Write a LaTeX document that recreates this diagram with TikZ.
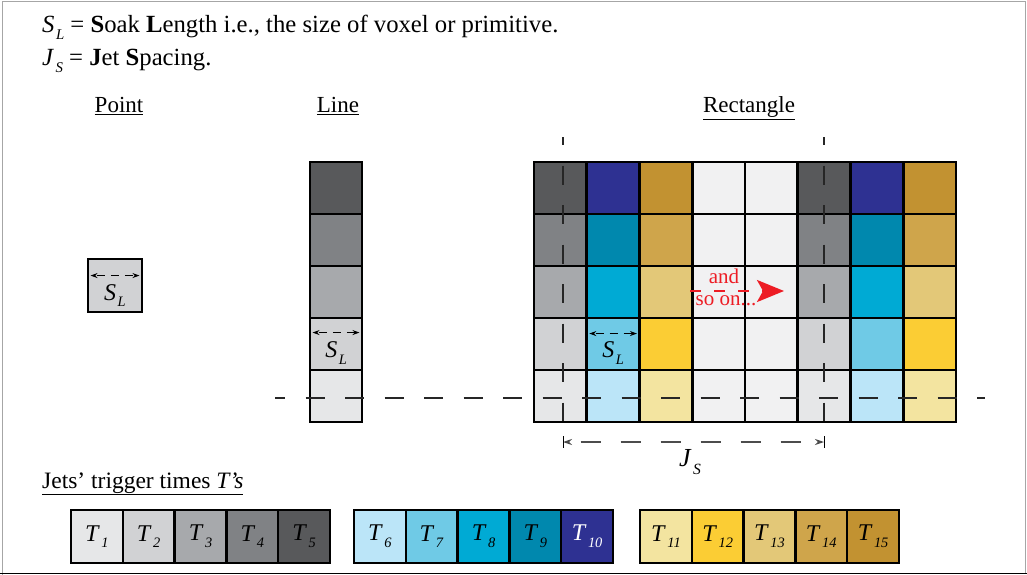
\documentclass[tikz,border=0pt]{standalone}
\usepackage{fontspec}
\setmainfont{Liberation Serif}
\usetikzlibrary{arrows.meta}

\definecolor{t1}{HTML}{E6E7E8}
\definecolor{t2}{HTML}{D1D2D4}
\definecolor{t3}{HTML}{A7A9AC}
\definecolor{t4}{HTML}{808285}
\definecolor{t5}{HTML}{58595B}
\definecolor{t6}{HTML}{BBE5F8}
\definecolor{t7}{HTML}{6FCAE6}
\definecolor{t8}{HTML}{00AAD4}
\definecolor{t9}{HTML}{0088AE}
\definecolor{t10}{HTML}{2E3192}
\definecolor{t11}{HTML}{F3E4A0}
\definecolor{t12}{HTML}{FBCD34}
\definecolor{t13}{HTML}{E3C878}
\definecolor{t14}{HTML}{CFA54B}
\definecolor{t15}{HTML}{C29231}
\definecolor{wh}{HTML}{F1F1F2}
\definecolor{sored}{HTML}{ED1C24}

\newcommand{\sym}[2]{\textit{#1}\kern1.5pt\raisebox{-0.6ex}{\scalebox{0.6}{\textit{#2}}}}

\begin{document}
\begin{tikzpicture}[x=1pt,y=-1pt,
  cell/.style={draw,line width=2.9pt,minimum width=52.75pt,minimum height=52pt,inner sep=0pt},
  tbox/.style={draw,line width=2.5pt,minimum width=51.8pt,minimum height=53pt,inner sep=0pt,
    font=\fontsize{24}{24}\selectfont},
  jetline/.style={line width=1.3pt,black!85,dash pattern=on 19pt off 20.5pt},
  dimarr/.style={{Stealth[length=7pt,width=5pt]}-{Stealth[length=7pt,width=5pt]},
    line width=1pt,dash pattern=on 8pt off 6pt,dash phase=-2pt},
  title/.style={font=\fontsize{23}{26}\selectfont,anchor=base}]
\useasboundingbox (0,0) rectangle (1027,575);
% frame
\draw[gray!70,line width=1pt] (2.5,575) -- (2.5,1.5) -- (1025.5,1.5) -- (1025.5,573);
\draw[line width=1.5pt] (0,573.5) -- (1027,573.5);

% header
\node[anchor=base west,font=\fontsize{24.7}{28}\selectfont,inner sep=0pt] (hd1) at (42,33)
  {\sym{S}{L} = \textbf{S}oak \textbf{L}ength i.e., the size of voxel or primitive.};
\node[anchor=base west,font=\fontsize{24.7}{28}\selectfont,inner sep=0pt] (hd2) at (42,66)
  {\sym{J}{S} = \textbf{J}et \textbf{S}pacing.};

% titles
\node[title] (tpoint) at (119,113) {\underline{Point}};
\node[title] (tline) at (338,113) {\underline{Line}};
\node[title] (trect) at (749,113) {\underline{Rectangle}};

% point
\node[cell,minimum width=54pt,minimum height=53pt,fill=t2] (pt) at (115,285.5) {};
\draw[dimarr] ([shift={(4,18)}]pt.north west) -- ([shift={(-4,18)}]pt.north east);
\node[font=\fontsize{24}{24}\selectfont] (ptl) at ([yshift=-10pt]pt.center) {\sym{S}{L}};

% line
\foreach \i in {1,...,5}{
  \pgfmathtruncatemacro\k{6-\i}
  \node[cell,minimum width=52pt,fill=t\k] (ln\i) at (336,{188+(\i-1)*52}) {};
}
\draw[dimarr] ([shift={(4,16)}]ln4.north west) -- ([shift={(-4,16)}]ln4.north east);
\node[font=\fontsize{24}{24}\selectfont] (lnl) at ([yshift=-9pt]ln4.center) {\sym{S}{L}};

% rectangle
\foreach \i in {1,...,5}{
  \pgfmathtruncatemacro\k{6-\i}
  \foreach \j/\o in {1/0,2/5,3/10,6/0,7/5,8/10}{
    \pgfmathtruncatemacro\n{\k+\o}
    \node[cell,fill=t\n] (r\i\j) at ({534+26.375+(\j-1)*52.75},{188+(\i-1)*52}) {};
  }
  \foreach \j in {4,5}
    \node[cell,fill=wh] (r\i\j) at ({534+26.375+(\j-1)*52.75},{188+(\i-1)*52}) {};
}
\draw[dimarr] ([shift={(4,17)}]r42.north west) -- ([shift={(-4,17)}]r42.north east);
\node[font=\fontsize{24}{24}\selectfont] (rl) at ([yshift=-9pt]r42.center) {\sym{S}{L}};

% jet lines
\coordinate (va1) at (563,137);
\coordinate (va2) at (563,421);
\coordinate (vb1) at (824,137);
\coordinate (vb2) at (824,421);
\coordinate (ha1) at (275,398);
\coordinate (ha2) at (985,398);
\draw[jetline,dash phase=11pt] (va1) -- (va2);
\draw[jetline,dash phase=11pt] (vb1) -- (vb2);
\draw[jetline,dash phase=9pt] (ha1) -- (ha2);

% jet spacing
\coordinate (js1) at (563,442);
\coordinate (js2) at (824,442);
\draw[{Stealth[length=9pt,width=6pt]}-{Stealth[length=9pt,width=6pt]},line width=1.2pt,
  black!70,dash pattern=on 20pt off 20pt,dash phase=-12pt] (js1) -- (js2);
\draw[line width=1pt] ([yshift=6pt]js1) -- ([yshift=-6pt]js1);
\draw[line width=1pt] ([yshift=6pt]js2) -- ([yshift=-6pt]js2);
\node[font=\fontsize{26}{26}\selectfont] (jsl) at (690,462) {\sym{J}{S}};

% and so on
\coordinate (so1) at (690,291);
\coordinate (so2) at (784,291);
\draw[sored,line width=2.6pt,dash pattern=on 11pt off 13pt,
  -{Stealth[length=27pt,width=22pt,inset=6pt]}] (so1) -- (so2);
\node[sored,font=\fontsize{21}{21}\selectfont,anchor=base] (sot1) at (724,283) {and};
\node[sored,font=\fontsize{21}{21}\selectfont,anchor=base] (sot2) at (726,305) {so on...};

% legend
\node[anchor=base west,font=\fontsize{23.5}{26}\selectfont,inner sep=0pt] (leg) at (42,488)
  {\underline{Jets’ trigger times \textit{T’s}}};
\foreach \s/\x in {0/71,5/354,10/640}
  \foreach \m in {1,...,5}{
    \pgfmathtruncatemacro\n{\s+\m}
    \node[tbox,fill=t\n] (t\n) at ({\x+25.9+(\m-1)*51.8},536.5)
      {\ifnum\n=10 \color{white}\fi\sym{T}{\n}};
  }
\end{tikzpicture}
\end{document}
